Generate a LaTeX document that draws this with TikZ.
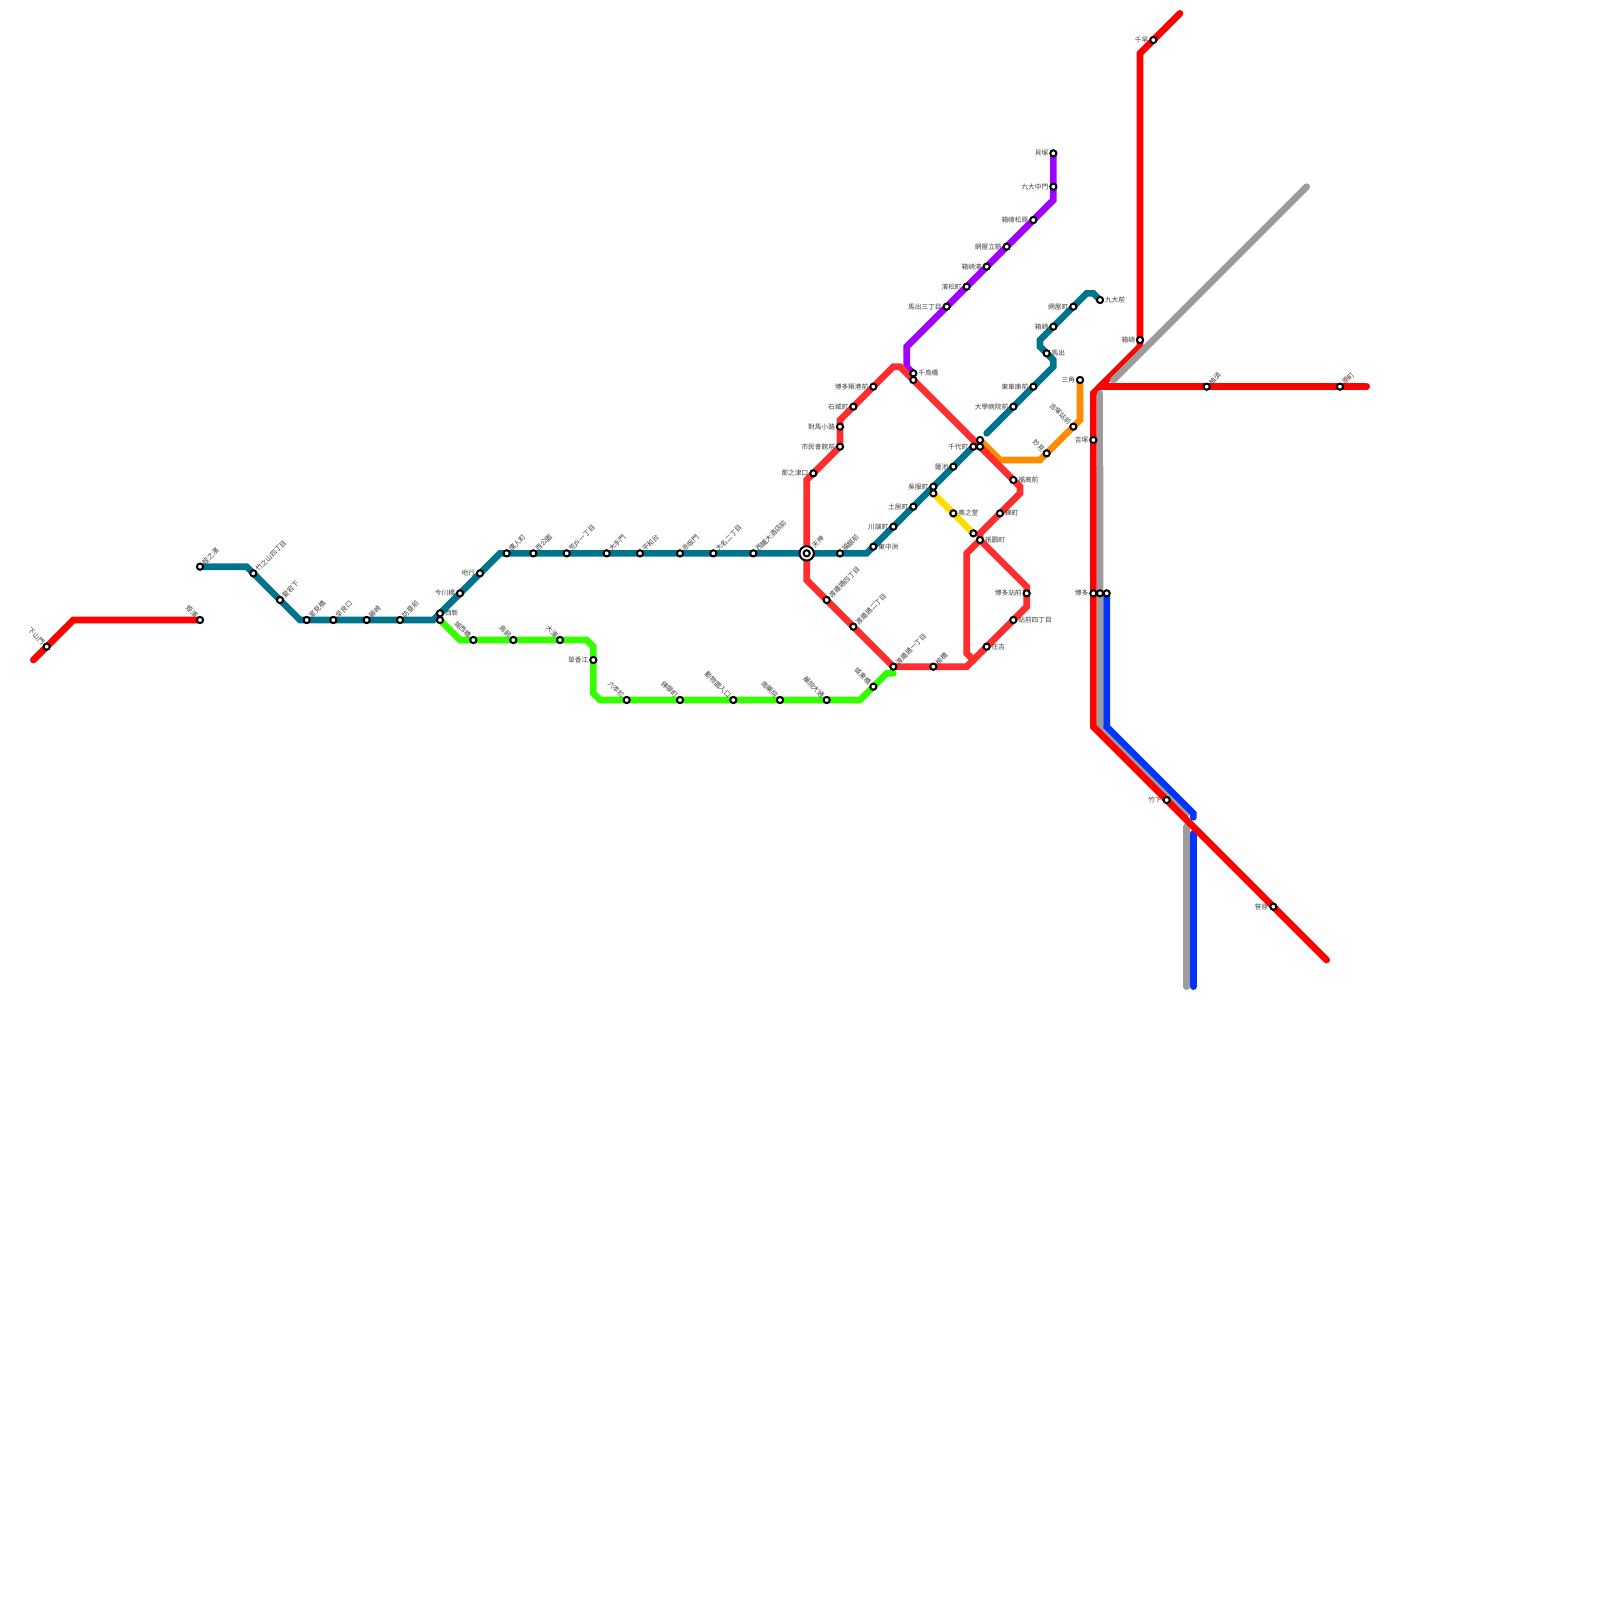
\documentclass[tikz,border=0pt]{standalone}
\usepackage{fontspec}
\setmainfont{Noto Sans CJK TC}
\pgfdeclarelayer{lines}
\pgfsetlayers{lines,main}
\definecolor{cjr}{HTML}{FF0000}
\definecolor{clr}{HTML}{FF2D2D}
\definecolor{cteal}{HTML}{00748A}
\definecolor{cgreen}{HTML}{33FF00}
\definecolor{cpurple}{HTML}{A000FF}
\definecolor{corange}{HTML}{FF8C00}
\definecolor{cyellow}{HTML}{FFDD00}
\definecolor{cgray}{HTML}{9C9C9C}
\definecolor{cblue}{HTML}{0033FF}
\definecolor{ctext}{HTML}{3C3C3C}
\tikzset{
  metro/.style={line width=3.3333pt,line cap=round,line join=miter,miter limit=4},
  stnode/.style={circle,draw=black,fill=white,line width=1pt,inner sep=0pt,outer sep=0pt,minimum size=3.1pt},
  bignode/.style={circle,draw=black,fill=white,line width=1pt,inner sep=0pt,outer sep=0pt,minimum size=7.2pt},
  lbl/.style={font=\fontsize{3.35pt}{3.6pt}\selectfont,text=ctext,inner sep=0pt,outer sep=0pt},
  lblR/.style={lbl,anchor=west,xshift=2.5pt},
  lblL/.style={lbl,anchor=east,xshift=-2.5pt},
  lblNE/.style={lbl,rotate=45,anchor=west,xshift=2.4pt},
  lblNW/.style={lbl,rotate=-45,anchor=east,xshift=-2.4pt},
}
\newcommand{\stn}[5]{\node[stnode] (#1) at (#2,#3) {}; \node[#4] (#1t) at (#1) {#5};}
\begin{document}
\begin{tikzpicture}[x=3.33333pt,y=-3.33333pt]
\useasboundingbox (0,0) rectangle (240,240);
% ---- bends and free ends
\foreach \n/\x/\y in {
 a1/5/99,a2/11/93,
 b1/37/85,b2/45/93,b3/65/93,b4/75/83,b5/130/83,
 c1/148/65,c2/158/55,c3/158/54,c4/156/52,c5/156/51,c6/163/44,c7/164/44,
 d1/158/30,d2/136/52,d3/136/55,
 e1/121/72,e2/126/63,e3/134/55,e4/135/55,e5/153/73,e6/153/74,e7/147/80,e8/145/83,e9/154/88,e10/154/91,e11/145/100,e12/121/87,e13/145/98,e14/146/99,
 f1/69/96,f2/88/96,f3/89/97,f4/89/104,f5/90/105,f6/129/105,f7/133/101,f8/134/101,
 g1/162/63,g2/156/69,g3/150/69,
 h1/177/2,h2/171/8,h3/171/52,h4/164/59,h5/164/109,h6/199/144,h7/165/58,h8/205/58,
 i1/196/28,i2/167/57,i3/165/59,i4/165/70,i5/165/109,i6/178/122,i7/178/124,i8/178/148,
 j1/166/109,j2/179/122,j3/179/122.6,j4/179/125,j5/179/148}
 {\coordinate (\n) at (\x,\y);}
% ---- stations
\stn{xiashan}{7}{97}{lblNW}{下山門}
\stn{meihama}{30}{93}{lblNW}{姪濱}
\stn{t01}{30}{85}{lblNE}{姪之濱}
\stn{t02}{38}{86}{lblNE}{竹之山四丁目}
\stn{t03}{42}{90}{lblNE}{愛宕下}
\stn{t04}{46}{93}{lblNE}{室見橋}
\stn{t05}{50}{93}{lblNE}{早良口}
\stn{t06}{55}{93}{lblNE}{藤崎}
\stn{t07}{60}{93}{lblNE}{防塁前}
\stn{t08}{66}{92}{lblR}{西新}
\stn{t09}{69}{89}{lblL}{今川橋}
\stn{t10}{72}{86}{lblL}{地行}
\stn{t11}{76}{83}{lblNE}{唐人町}
\stn{t12}{80}{83}{lblNE}{西公園}
\stn{t13}{85}{83}{lblNE}{荒戶一丁目}
\stn{t14}{91}{83}{lblNE}{大手門}
\stn{t15}{96}{83}{lblNE}{平和台}
\stn{t16}{102}{83}{lblNE}{赤坂門}
\stn{t17}{107}{83}{lblNE}{大名二丁目}
\stn{t18}{113}{83}{lblNE}{西鐵大酒店前}
\node[bignode] (tenjinring) at (121,83) {};
\node[stnode] (tenjin) at (121,83) {};
\node[lbl,rotate=45,anchor=west,xshift=4.7pt] (tenjintx) at (tenjin) {天神};
\stn{t20}{126}{83}{lblNE}{福銀前}
\stn{t21}{131}{82}{lblR}{東中洲}
\stn{t22}{134}{79}{lblL}{川端町}
\stn{t23}{137}{76}{lblL}{土居町}
\stn{t24}{140}{73}{lblL}{吳服町}
\stn{t25}{143}{70}{lblL}{蓮池}
\stn{t26}{146}{67}{lblL}{千代町}
\stn{c01}{152}{61}{lblL}{大學病院前}
\stn{c02}{155}{58}{lblL}{東車庫前}
\stn{c03}{157}{53}{lblR}{馬出}
\stn{c04}{158}{49}{lblL}{箱崎}
\stn{c05}{161}{46}{lblL}{網屋町}
\stn{c06}{165}{45}{lblR}{九大前}
\stn{p01}{158}{23}{lblL}{貝塚}
\stn{p02}{158}{28}{lblL}{九大中門}
\stn{p03}{155}{33}{lblL}{箱崎松原}
\stn{p04}{151}{37}{lblL}{網屋立筋}
\stn{p05}{148}{40}{lblL}{箱崎濱}
\stn{p06}{145}{43}{lblL}{濱松町}
\stn{p07}{142}{46}{lblL}{馬出三丁目}
\stn{p08}{137}{56}{lblR}{千鳥橋}
\node[stnode] (r01) at (137,57) {};
\stn{r02}{131}{58}{lblL}{博多築港前}
\stn{r03}{128}{61}{lblL}{石城町}
\stn{r04}{126}{64}{lblL}{對馬小路}
\stn{r05}{126}{67}{lblL}{市民會館前}
\stn{r06}{122}{71}{lblL}{那之津口}
\stn{r07}{124}{90}{lblNE}{渡邊通四丁目}
\stn{r08}{128}{94}{lblNE}{渡邊通二丁目}
\stn{r09}{134}{100}{lblNE}{渡邊通一丁目}
\stn{r10}{140}{100}{lblNE}{柳橋}
\stn{r11}{148}{97}{lblR}{住吉}
\stn{r12}{152}{93}{lblR}{站前四丁目}
\stn{r13}{154}{89}{lblL}{博多站前}
\stn{r14}{147}{81}{lblR}{祇園町}
\stn{r15}{150}{77}{lblR}{錦町}
\stn{r16}{152}{72}{lblR}{福高前}
\node[stnode] (r17) at (147,67) {};
\node[stnode] (o01) at (147,66) {};
\stn{o02}{157}{68}{lblNW}{妙見}
\stn{o03}{161}{64}{lblNW}{吉塚站前}
\stn{o04}{162}{57}{lblL}{三角}
\node[stnode] (y01) at (140,74) {};
\stn{y02}{143}{77}{lblR}{奧之堂}
\node[stnode] (y03) at (146,80) {};
\node[stnode] (g01) at (66,93) {};
\stn{g02}{71}{96}{lblNW}{城西橋}
\stn{g03}{77}{96}{lblNW}{鳥飼}
\stn{g04}{84}{96}{lblNW}{大濠}
\stn{g05}{89}{99}{lblL}{草香江}
\stn{g06}{94}{105}{lblNW}{六本松}
\stn{g07}{102}{105}{lblNW}{練塀町}
\stn{g08}{110}{105}{lblNW}{動物園入口}
\stn{g09}{117}{105}{lblNW}{南藥院}
\stn{g10}{124}{105}{lblNW}{藥院大通}
\stn{g11}{131}{103}{lblNW}{城東橋}
\stn{j01}{173}{6}{lblL}{千早}
\stn{j02}{171}{51}{lblL}{箱崎}
\stn{j03}{164}{66}{lblL}{吉塚}
\stn{j04}{164}{89}{lblL}{博多}
\node[stnode] (j05) at (165,89) {};
\node[stnode] (j06) at (166,89) {};
\stn{j07}{175}{120}{lblL}{竹下}
\stn{j08}{191}{136}{lblL}{笹原}
\stn{j09}{181}{58}{lblNE}{柚須}
\stn{j10}{201}{58}{lblNE}{原町}
% ---- lines
\begin{pgfonlayer}{lines}
\draw[metro,cgray] (i4)--(i5)--(i6);
\draw[metro,cgray] (i7)--(i8);
\draw[metro,cblue] (j06.center)--(j1)--(j2)--(j3);
\draw[metro,cblue] (j4)--(j5);
\draw[metro,cjr] (a1)--(a2)--(meihama.center);
\draw[metro,cjr] (h1)--(h2)--(h3)--(h4)--(h5)--(h6);
\draw[metro,cjr] (h7)--(h8);
\draw[metro,cgray] (i1)--(i2);
\draw[metro,cgray] (i3)--(i4);
\draw[metro,cpurple] (p01.center)--(d1)--(d2)--(d3)--(p08.center);
\draw[metro,cyellow] (y01.center)--(y03.center);
\draw[metro,corange] (o04.center)--(g1)--(g2)--(g3)--(o01.center);
\draw[metro,cgreen] (g01.center)--(f1)--(f2)--(f3)--(f4)--(f5)--(f6)--(f7)--(f8);
\draw[metro,clr] (tenjin.center)--(e1)--(r05.center)--(e2)--(e3)--(e4)--(r17.center)--(e5)--(e6)--(e7)--(r14.center)--(e8)--(e13)--(e14);
\draw[metro,clr] (r14.center)--(e9)--(e10)--(e11)--(r09.center)--(e12)--(tenjin.center);
\draw[metro,cteal] (t01.center)--(b1)--(b2)--(b3)--(b4)--(b5)--(t26.center);
\draw[metro,cteal] (c1)--(c2)--(c3)--(c4)--(c5)--(c6)--(c7)--(c06.center);
\end{pgfonlayer}
\end{tikzpicture}
\end{document}
